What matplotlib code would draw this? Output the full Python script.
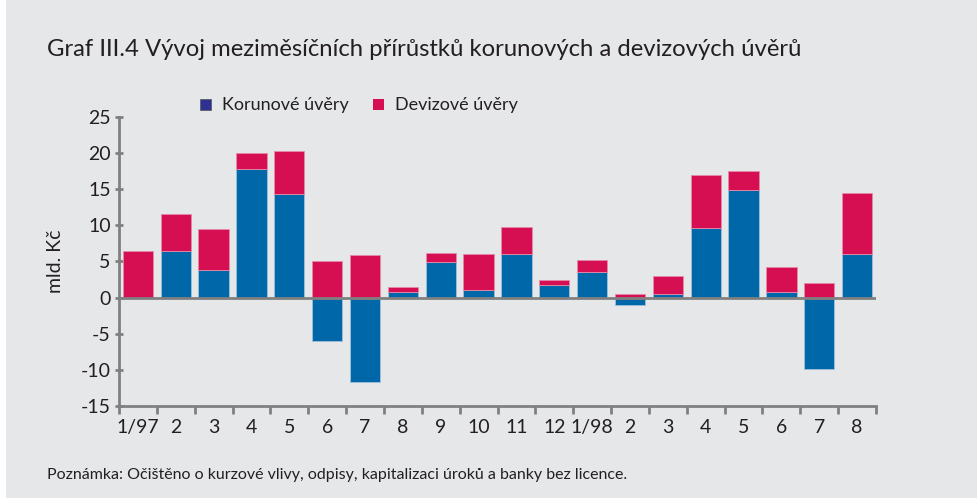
import numpy as np
import matplotlib.pyplot as plt
from matplotlib.patches import Rectangle

plt.rcParams['font.family'] = ['Lato', 'DejaVu Sans']
plt.rcParams['axes.unicode_minus'] = False

months = ['1/97', '2', '3', '4', '5', '6', '7', '8', '9', '10', '11', '12',
          '1/98', '2', '3', '4', '5', '6', '7', '8']
korunove = [0.0, 6.4, 3.75, 17.8, 14.3, -6.0, -11.7, 0.8, 4.9, 1.05, 6.0, 1.7,
            3.55, -1.1, 0.5, 9.6, 14.9, 0.7, -9.9, 6.0]
devizove = [6.5, 5.2, 5.75, 2.2, 6.0, 5.1, 5.9, 0.6, 1.2, 4.95, 3.8, 0.75,
            1.65, 0.45, 2.5, 7.4, 2.65, 3.5, 2.0, 8.4]

bg = '#e6e7e9'
blue = '#0067a9'
red = '#d60f52'
grey = '#808080'

fig = plt.figure(figsize=(9.78, 4.98), dpi=100, facecolor=bg)
fig.patches.append(Rectangle((0, 0), 6 / 978, 1, transform=fig.transFigure,
                             facecolor='white', edgecolor='none'))
ax = fig.add_axes([119 / 978, 1 - 406 / 498, 757 / 978, 289.3 / 498])
ax.set_facecolor(bg)

x = np.arange(len(months))
kor = np.array(korunove)
dev = np.array(devizove)
red_base = np.where(kor > 0, kor, 0)    # foreign loans stacked on top of positive crown loans

ax.bar(x, kor, width=0.8, color=blue, edgecolor='#9fc0dc', linewidth=0.6, zorder=2)
ax.bar(x, dev, bottom=red_base, width=0.8, color=red, edgecolor='#e58aa8', linewidth=0.6, zorder=2)
ax.axhline(0, color=grey, lw=2, zorder=3)

ax.set_xlim(-0.5, len(months) - 0.5)
ax.set_ylim(-15, 25)
ax.set_yticks(np.arange(-15, 26, 5))
ax.set_xticks(x)
ax.set_xticklabels(months)
ax.set_xticks(np.arange(-0.5, len(months)), minor=True)
ax.tick_params(axis='x', which='major', length=0, pad=9, labelsize=14, colors='#231f20')
ax.tick_params(axis='x', which='minor', length=6, width=2, color=grey, direction='out')
ax.tick_params(axis='y', length=6, width=2, color=grey, direction='inout', labelsize=14,
               labelcolor='#231f20', pad=3)

for s in ['top', 'right']:
    ax.spines[s].set_visible(False)
for s in ['left', 'bottom']:
    ax.spines[s].set_color(grey)
    ax.spines[s].set_linewidth(2)

ax.set_ylabel('mld. Kč', fontsize=14, color='#231f20', labelpad=12)

fig.text(47 / 978, 1 - 50 / 498, 'Graf III.4 Vývoj meziměsíčních přírůstků korunových a devizových úvěrů',
         fontsize=17.2, color='#231f20', va='center', ha='left')

# legend
fig.patches.append(Rectangle((200 / 978, 1 - 110 / 498), 11 / 978, 11 / 498, transform=fig.transFigure,
                             facecolor='#2e3192', edgecolor='#555555', lw=0.5))
fig.text(222 / 978, 1 - 105 / 498, 'Korunové úvěry', fontsize=13, color='#231f20', va='center')
fig.patches.append(Rectangle((373 / 978, 1 - 110 / 498), 11 / 978, 11 / 498, transform=fig.transFigure,
                             facecolor=red, edgecolor='none'))
fig.text(395 / 978, 1 - 105 / 498, 'Devizové úvěry', fontsize=13, color='#231f20', va='center')

fig.text(47 / 978, 1 - 475 / 498, 'Poznámka: Očištěno o kurzové vlivy, odpisy, kapitalizaci úroků a banky bez licence.',
         fontsize=11.5, color='#231f20', va='center')

fig.savefig('out.png', dpi=100, facecolor=bg)
